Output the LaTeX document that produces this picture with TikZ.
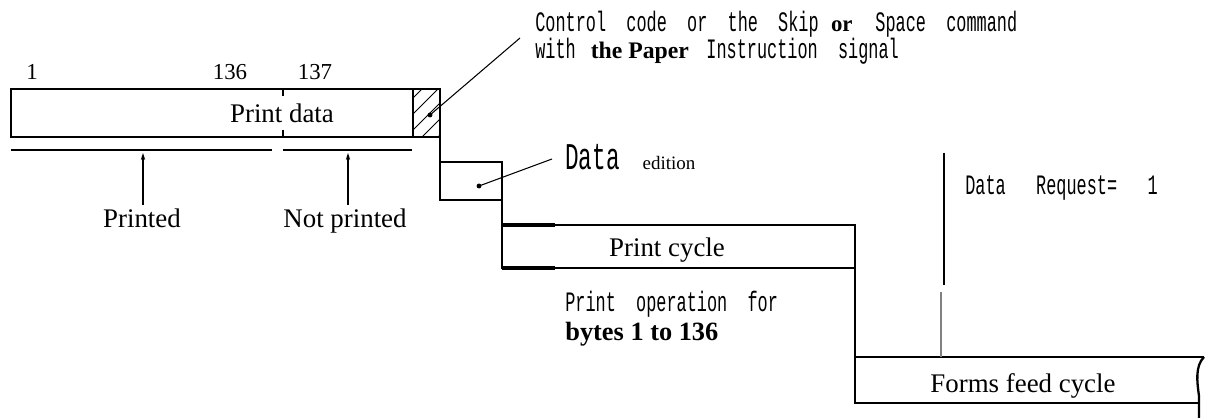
\documentclass[tikz,border=0pt]{standalone}
\usepackage{fontspec}
\usepackage{tikz}
\usetikzlibrary{arrows.meta}
\setmainfont{Liberation Serif}
\newfontfamily\typefont{Liberation Mono}
\newcommand{\twtext}[2]{\scalebox{0.6}[1]{\typefont\fontsize{#1}{#1}\selectfont #2}}

\begin{document}
\begin{tikzpicture}[x=0.02cm, y=-0.02cm,
    box/.style={line width=1.3pt},
    leader/.style={line width=0.6pt},
    serif/.style={font=\fontsize{15.3}{17}\selectfont, inner sep=0pt, anchor=base},
    plain/.style={inner sep=0pt, anchor=base west}]
\useasboundingbox (0,0) rectangle (1206,418);

% Byte positions
\foreach \x/\t [count=\i] in {32/1,230/136,315/137} {
    \node[serif, font=\fontsize{13}{15}\selectfont] (pos\i) at (\x,80) {\t};
}

% Print data buffer with hatched last byte
\draw[box] (11,89) rectangle (440,137);
\draw[box] (413,89) -- (413,137);
\begin{scope}
    \clip (413,89) rectangle (440,137);
    \foreach \c in {98,114,130,146,162} {
        \draw[leader] (413,\c) -- (440,\c-27);
    }
\end{scope}
\draw[leader] (283,89) -- (283,96);
\draw[leader] (283,130) -- (283,137);
\node[serif] (pdata) at (282,123) {Print data};

% Printed / not printed spans
\coordinate (pspanL) at (11,150);
\coordinate (pspanR) at (272,150);
\coordinate (nspanL) at (283,150);
\coordinate (nspanR) at (412,150);
\draw[box, line width=1pt] (pspanL) -- (pspanR);
\draw[box, line width=1pt] (nspanL) -- (nspanR);
\node[serif] (printed) at (142,228) {Printed};
\node[serif] (notprinted) at (345,228) {Not printed};
\coordinate (ptip) at (143,153);
\coordinate (ntip) at (348,153);
\draw[leader, -{Stealth[length=4pt,width=2.5pt]}] (ptip |- 0,205) -- (ptip);
\draw[leader, -{Stealth[length=4pt,width=2.5pt]}] (ntip |- 0,205) -- (ntip);

% Control code label
\node[plain] (ctrl1) at (535,32) {\twtext{16}{Control\ \ code\ \ or\ \ the\ \ Skip}\hspace{7pt}{\fontsize{13}{14}\selectfont\bfseries or}\hspace{13pt}\twtext{16}{Space\ \ command}};
\node[plain] (ctrl2) at (535,59) {\twtext{16}{with}\hspace{8.5pt}{\fontsize{13.5}{14}\selectfont\bfseries the Paper}\hspace{10pt}\twtext{16}{Instruction\ \ signal}};
\coordinate (ctrldot) at (430,115);
\coordinate (ctrlend) at (520,38);
\fill (ctrldot) circle (1.4pt);
\draw[leader] (ctrldot) -- (ctrlend);

% Stepped cycles
\draw[box] (440,137) -- (440,200) -- (502,200);
\draw[box] (440,162) -- (502,162) -- (502,268) -- (855,268);
\draw[box] (502,225) -- (855,225) -- (855,403) -- (1199,403);
\draw[box] (855,357) -- (1204,357);
\draw[box] (1204,357) .. controls (1195,366) and (1197,382) .. (1199,396) -- (1199,418);
\draw[box, line width=2pt] (502,225) -- (555,225);
\draw[box, line width=2pt] (502,268) -- (555,268);

% Data edition
\coordinate (edot) at (479,186);
\coordinate (eend) at (552,159);
\fill (edot) circle (1.4pt);
\draw[leader] (edot) -- (eend);
\node[plain] (edition) at (565,170) {\twtext{21.5}{Data}\hspace{13pt}{\fontsize{10.8}{12}\selectfont edition}};

% Print cycle
\node[serif] (pcycle) at (667,257) {Print cycle};
\node[plain] (pop1) at (565,312) {\twtext{16}{Print\ \ operation\ \ for}};
\node[plain, font=\fontsize{15}{17}\selectfont\bfseries] (pop2) at (565,340) {bytes 1 to 136};

% Data request line
\coordinate (rtop) at (944,153);
\coordinate (rbot) at (944,285);
\draw[line width=1pt] (rtop) -- (rbot);
\draw[line width=0.6pt, gray] (941,292) -- (941,357);
\node[plain] (request) at (965,195) {\twtext{16}{Data\ \ \ Request=\ \ \ 1}};

% Forms feed cycle
\node[serif] (ffcycle) at (1023,392) {Forms feed cycle};

\end{tikzpicture}
\end{document}
